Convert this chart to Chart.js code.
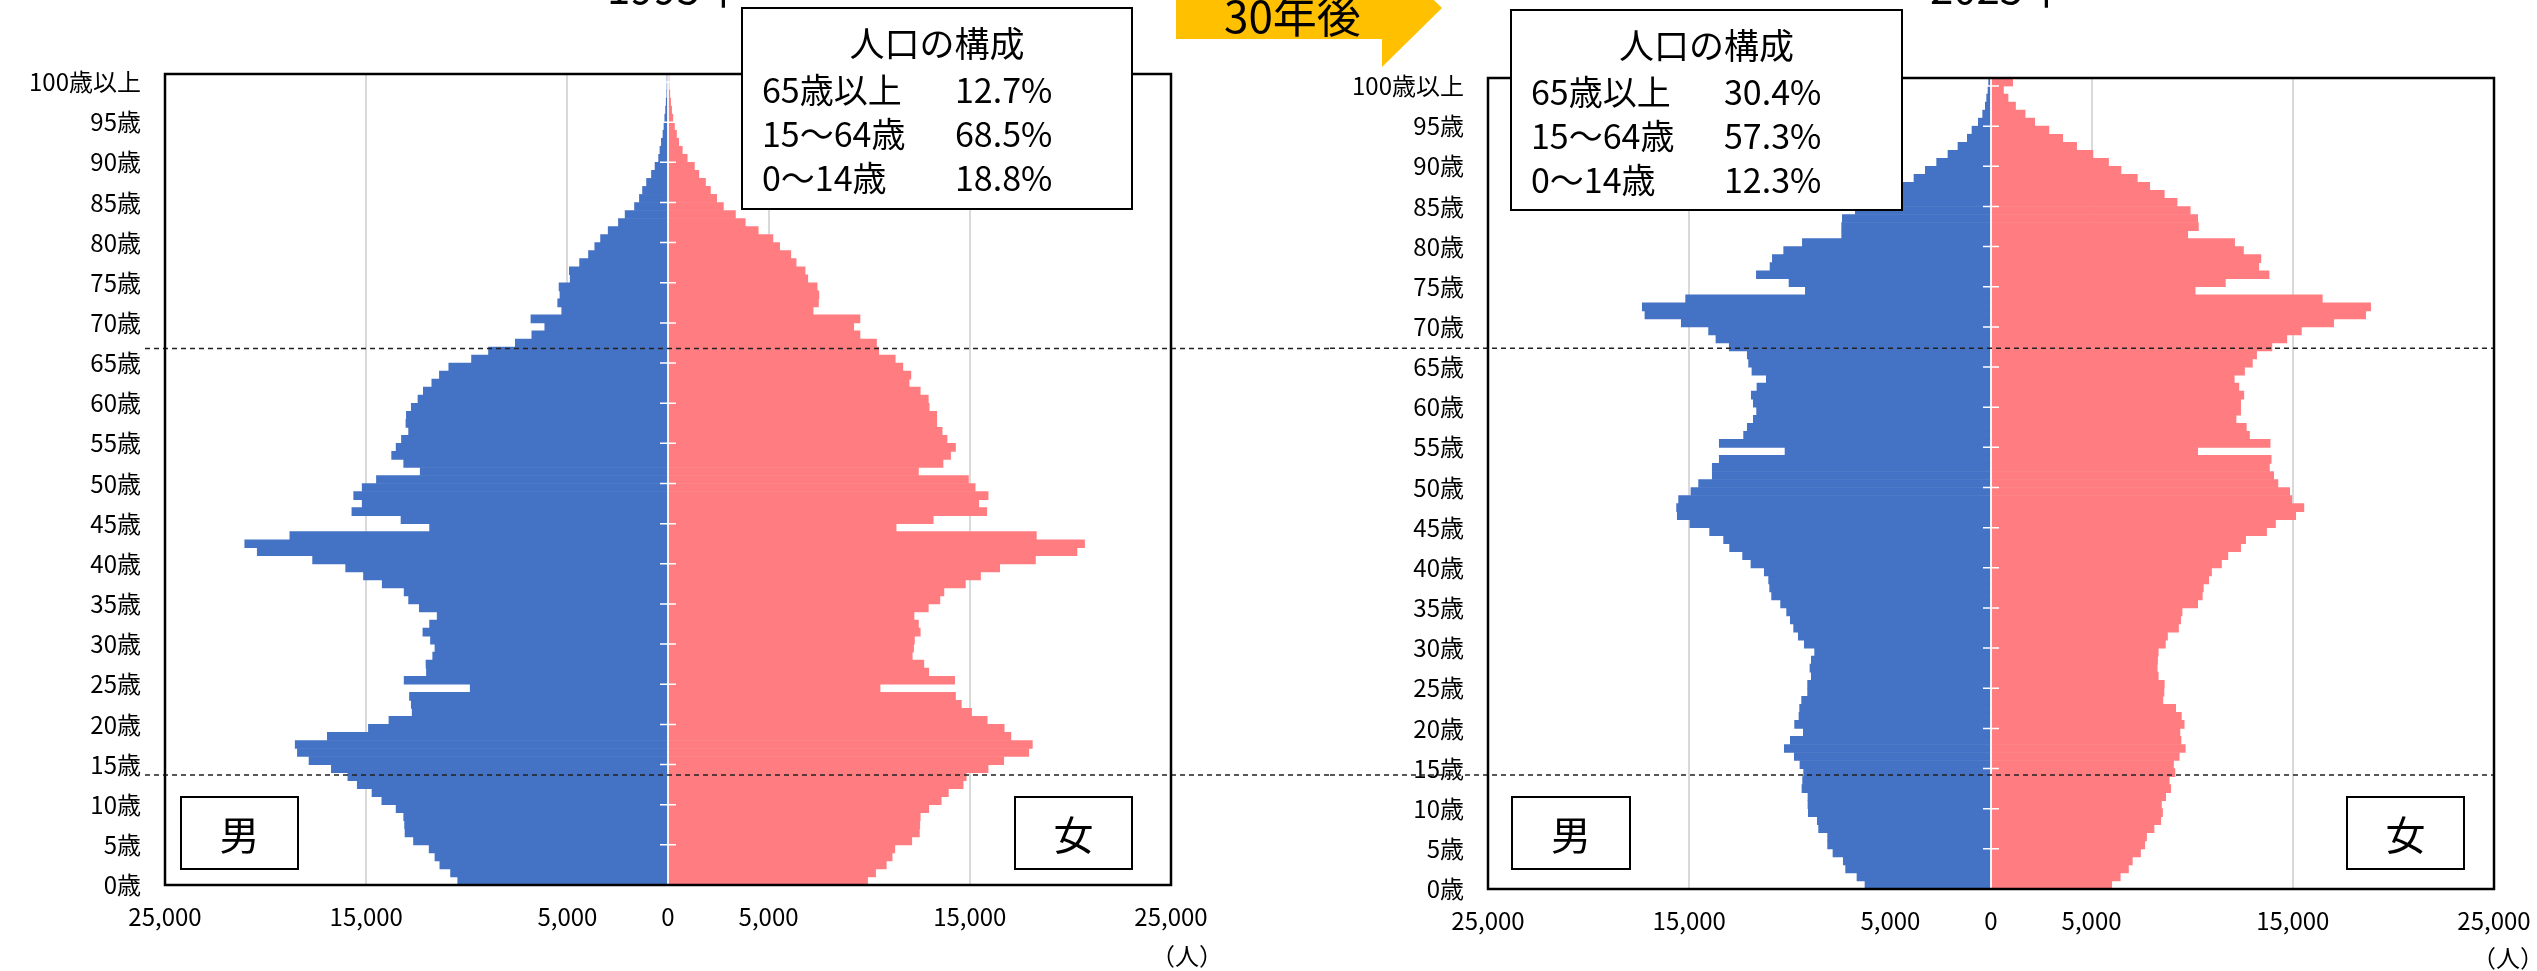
<!DOCTYPE html>
<html lang="ja">
<head>
<meta charset="utf-8">
<title>人口ピラミッド 1995年・2025年</title>
<script src="https://cdn.jsdelivr.net/npm/chart.js@4.4.1/dist/chart.umd.min.js"></script>
<style>
  html, body { margin: 0; padding: 0; background: #fff; }
  #page { position: relative; width: 2537px; height: 971px; overflow: hidden; }
  #page canvas { position: absolute; top: 0; }
  #chart1995 { left: 0; }
  #chart2025 { left: 1330px; }
  #overlay { position: absolute; left: 0; top: 0; }
  #overlay text { font-family: "Noto Sans CJK JP", "Noto Sans", sans-serif; fill: #000; }
</style>
</head>
<body>
<div id="page">
  <canvas id="chart1995" width="1330" height="971"></canvas>
  <canvas id="chart2025" width="1290" height="971"></canvas>
  <svg id="overlay" width="2537" height="971" xmlns="http://www.w3.org/2000/svg">
    <text x="607" y="4" font-size="42">1995年</text>
    <text x="1930" y="4" font-size="42">2025年</text>
    <polygon points="1176,-23 1382,-23 1382,-51 1442,8 1382,67 1382,39 1176,39" fill="#FFC000"/>
    <text x="1224" y="33" font-size="44">30年後</text>
    <g id="box1995"></g>
    <g id="box2025"></g>
    <rect x="181" y="797" width="117" height="72" fill="#fff" stroke="#000" stroke-width="2"/>
    <text x="239.5" y="850" font-size="40" text-anchor="middle">男</text>
    <rect x="1015" y="797" width="117" height="72" fill="#fff" stroke="#000" stroke-width="2"/>
    <text x="1073.5" y="850" font-size="40" text-anchor="middle">女</text>
    <rect x="1512" y="797" width="118" height="72" fill="#fff" stroke="#000" stroke-width="2"/>
    <text x="1571" y="850" font-size="40" text-anchor="middle">男</text>
    <rect x="2347" y="797" width="117" height="72" fill="#fff" stroke="#000" stroke-width="2"/>
    <text x="2405.5" y="850" font-size="40" text-anchor="middle">女</text>
    <text x="1151" y="965" font-size="24">（人）</text>
    <text x="2472" y="967" font-size="24">（人）</text>
  </svg>
</div>
<script>
// ages 0 .. 100 (100 = 100歳以上), bottom to top
const ageCategories = Array.from({ length: 101 }, (_, i) => i);
const ageTickText = ['0歳', '5歳', '10歳', '15歳', '20歳', '25歳', '30歳', '35歳', '40歳', '45歳',
  '50歳', '55歳', '60歳', '65歳', '70歳', '75歳', '80歳', '85歳', '90歳', '95歳', '100歳以上'];
const popTicks = [-25000, -15000, -5000, 0, 5000, 15000, 25000];

const male1995 = [
  10451, 10806, 11339, 11583, 11872, 12648, 13070, 13092, 13136, 13514,
  14224, 14712, 15444, 15910, 16731, 17841, 18418, 18529, 16931, 14889,
  13869, 12715, 12759, 12848, 9830, 13114, 12005, 12027, 11694, 11583,
  11805, 12182, 11849, 11472, 12360, 12892, 13114, 14202, 15134, 16021,
  17663, 20415, 21036, 18795, 11849, 13270, 15710, 15200, 15622, 15200,
  14490, 12315, 13136, 13735, 13513, 13247, 12892, 13025, 13003, 12759,
  12426, 12160, 11738, 11361, 10895, 9764, 8920, 7589, 6768, 6124,
  6812, 5281, 5481, 5370, 5414, 4860, 4904, 4394, 3950, 3639,
  3351, 2973, 2463, 2130, 1664, 1420, 1265, 1065, 821, 644,
  466, 400, 330, 250, 200, 160, 120, 90, 60, 40,
  20
];
const female1995 = [
  9919, 10318, 10851, 11139, 11273, 12116, 12493, 12515, 12537, 12959,
  13580, 13935, 14668, 14823, 15910, 16687, 17930, 18107, 17042, 16709,
  15866, 15089, 14579, 14290, 10540, 14246, 12959, 12715, 12138, 12205,
  12249, 12537, 12449, 12227, 12937, 13514, 13713, 14779, 15533, 16487,
  18262, 20326, 20703, 18307, 11339, 13181, 15843, 15444, 15910, 15266,
  14934, 12448, 13669, 14046, 14290, 13869, 13625, 13358, 13358, 12981,
  12937, 12537, 11982, 12071, 11672, 11295, 10474, 10363, 9542, 9231,
  9542, 7212, 7478, 7501, 7412, 6946, 6813, 6369, 6103, 5548,
  5215, 4483, 3839, 3351, 2752, 2419, 2108, 1864, 1531, 1310,
  954, 710, 532, 421, 320, 240, 180, 130, 90, 50,
  30
];
const male2025 = [
  6263, 6661, 7225, 7341, 7854, 8119, 8119, 8567, 8633, 9080,
  9097, 9097, 9395, 9362, 9312, 9495, 9776, 10273, 9975, 9329,
  9760, 9544, 9511, 9412, 9114, 9114, 8931, 8998, 8931, 8766,
  9279, 9577, 9809, 9975, 10157, 10456, 10903, 11002, 11052, 11268,
  11930, 12345, 12991, 13289, 13985, 14963, 15592, 15626, 15526, 14913,
  14532, 13853, 13853, 13505, 10237, 13505, 12295, 12113, 11814, 11649,
  11814, 11914, 11632, 11168, 11881, 12047, 12113, 13008, 13670, 14035,
  15393, 17199, 17331, 15177, 9226, 10038, 11661, 10982, 10866, 10303,
  9375, 7422, 7422, 7389, 6745, 6100, 5400, 4700, 3828, 3264,
  2701, 2138, 1641, 1177, 945, 630, 414, 282, 215, 149,
  116
];
const female2025 = [
  6001, 6425, 6831, 7025, 7431, 7642, 7731, 8101, 8437, 8525,
  8472, 8684, 8931, 8860, 9143, 9072, 9355, 9655, 9443, 9390,
  9602, 9460, 9178, 8543, 8596, 8613, 8313, 8260, 8278, 8313,
  8666, 8772, 9319, 9425, 9496, 10272, 10502, 10555, 10819, 10961,
  11455, 11773, 12408, 12655, 13696, 14138, 15144, 15550, 14950, 14844,
  14261, 14049, 13838, 13926, 10272, 13873, 12849, 12690, 12179, 12408,
  12408, 12567, 12320, 12090, 12602, 12990, 13202, 13961, 14702, 15426,
  17032, 18621, 18868, 16467, 10149, 11649, 13820, 13308, 13414, 12549,
  12108, 9778, 10308, 10272, 9902, 9249, 8613, 7890, 7272, 6460,
  5842, 5066, 4254, 3565, 2877, 2171, 1694, 1218, 847, 618,
  1077
];

// 人口の構成
const shareGroups = ['65歳以上', '15～64歳', '0～14歳'];
const share1995 = [12.7, 68.5, 18.8];
const share2025 = [30.4, 57.3, 12.3];

// dashed divider lines, in age-boundary units (bottom edge of that age's bar)
const guides1995 = [13.7, 66.8];
const guides2025 = [14.2, 67.35];

const maleColor = '#4472C4';
const femaleColor = '#FF7C80';
const tickFont = { family: '"Noto Sans CJK JP", "Noto Sans", sans-serif', size: 24 };

// frame, white center axis with 5-year ticks, dashed dividers
const pyramidFrame = {
  id: 'pyramidFrame',
  afterDatasetsDraw(chart, args, opts) {
    const { ctx, chartArea: a, scales: { x, y } } = chart;
    const cx = x.getPixelForValue(0);
    ctx.save();
    ctx.strokeStyle = '#fff';
    ctx.lineWidth = 1.5;
    ctx.beginPath();
    ctx.moveTo(cx, a.top);
    ctx.lineTo(cx, a.bottom);
    for (let k = 0; k <= 100; k += 5) {
      const py = y.getPixelForValue(k - 0.5);
      ctx.moveTo(cx - 8, py);
      ctx.lineTo(cx + 8, py);
    }
    ctx.stroke();

    ctx.strokeStyle = '#222';
    ctx.lineWidth = 1.5;
    ctx.setLineDash([5, 4]);
    const to = opts.guideTo == null ? a.right : opts.guideTo;
    opts.guides.forEach(g => {
      const py = y.getPixelForValue(g - 0.5);
      ctx.beginPath();
      ctx.moveTo(opts.guideFrom, py);
      ctx.lineTo(to, py);
      ctx.stroke();
    });
    ctx.setLineDash([]);

    ctx.strokeStyle = '#000';
    ctx.lineWidth = 2.5;
    ctx.strokeRect(a.left, a.top, a.right - a.left, a.bottom - a.top);
    ctx.restore();
  }
};

function buildPyramid(canvasId, male, female, cfg) {
  return new Chart(document.getElementById(canvasId), {
    type: 'bar',
    data: {
      labels: ageCategories,
      datasets: [
        { label: '男', data: male.map(v => -v), backgroundColor: maleColor },
        { label: '女', data: female, backgroundColor: femaleColor }
      ]
    },
    options: {
      indexAxis: 'y',
      responsive: false,
      animation: false,
      devicePixelRatio: 1,
      layout: { padding: { left: 0, top: cfg.top, right: cfg.right, bottom: 0 } },
      datasets: { bar: { barPercentage: 1, categoryPercentage: 1, borderWidth: 0 } },
      plugins: {
        legend: { display: false },
        tooltip: { enabled: false },
        pyramidFrame: { guides: cfg.guides, guideFrom: cfg.guideFrom, guideTo: cfg.guideTo }
      },
      scales: {
        x: {
          stacked: true,
          min: -25000,
          max: 25000,
          afterBuildTicks: s => { s.ticks = popTicks.map(v => ({ value: v })); },
          afterFit: s => { s.height = cfg.axisH; },
          border: { display: false },
          grid: {
            drawTicks: false,
            lineWidth: 2,
            color: c => (c.tick && c.tick.value === 0) ? 'rgba(0,0,0,0)' : '#d9d9d9'
          },
          ticks: {
            autoSkip: false,
            maxRotation: 0,
            padding: 17,
            color: '#000',
            font: tickFont,
            callback: v => v === 0 ? '0' : Math.abs(v).toLocaleString('en-US')
          }
        },
        y: {
          stacked: true,
          reverse: true,
          afterFit: s => { s.width = cfg.axisW; },
          border: { display: false },
          grid: { display: false, drawTicks: false },
          ticks: {
            autoSkip: false,
            padding: 24,
            labelOffset: 4,
            color: '#000',
            font: tickFont,
            callback: (v, i) => i % 5 === 0 ? ageTickText[i / 5] : null
          }
        }
      }
    },
    plugins: [pyramidFrame]
  });
}

function drawShareBox(id, x, y, w, h, shares) {
  let html = `<rect x="${x}" y="${y}" width="${w}" height="${h}" fill="#fff" stroke="#000" stroke-width="2"/>`;
  html += `<text x="${x + w / 2}" y="${y + 49}" font-size="35" text-anchor="middle">人口の構成</text>`;
  shareGroups.forEach((label, i) => {
    const by = y + 95 + i * 44;
    html += `<text x="${x + 20}" y="${by}" font-size="34">${label}</text>`;
    html += `<text x="${x + 213}" y="${by}" font-size="34">${shares[i].toFixed(1)}%</text>`;
  });
  document.getElementById(id).innerHTML = html;
}

function draw() {
  buildPyramid('chart1995', male1995, female1995, {
    top: 74, right: 159, axisW: 165, axisH: 86,
    guides: guides1995, guideFrom: 145, guideTo: 1330
  });
  // canvas runs past the page edge so the right-hand tick label does not squeeze the plot
  buildPyramid('chart2025', male2025, female2025, {
    top: 78, right: 126, axisW: 158, axisH: 82,
    guides: guides2025, guideFrom: 0, guideTo: null
  });
  drawShareBox('box1995', 742, 8, 390, 201, share1995);
  drawShareBox('box2025', 1511, 10, 391, 200, share2025);
}

document.fonts.load('24px "Noto Sans CJK JP"').then(draw, draw);
</script>
</body>
</html>
